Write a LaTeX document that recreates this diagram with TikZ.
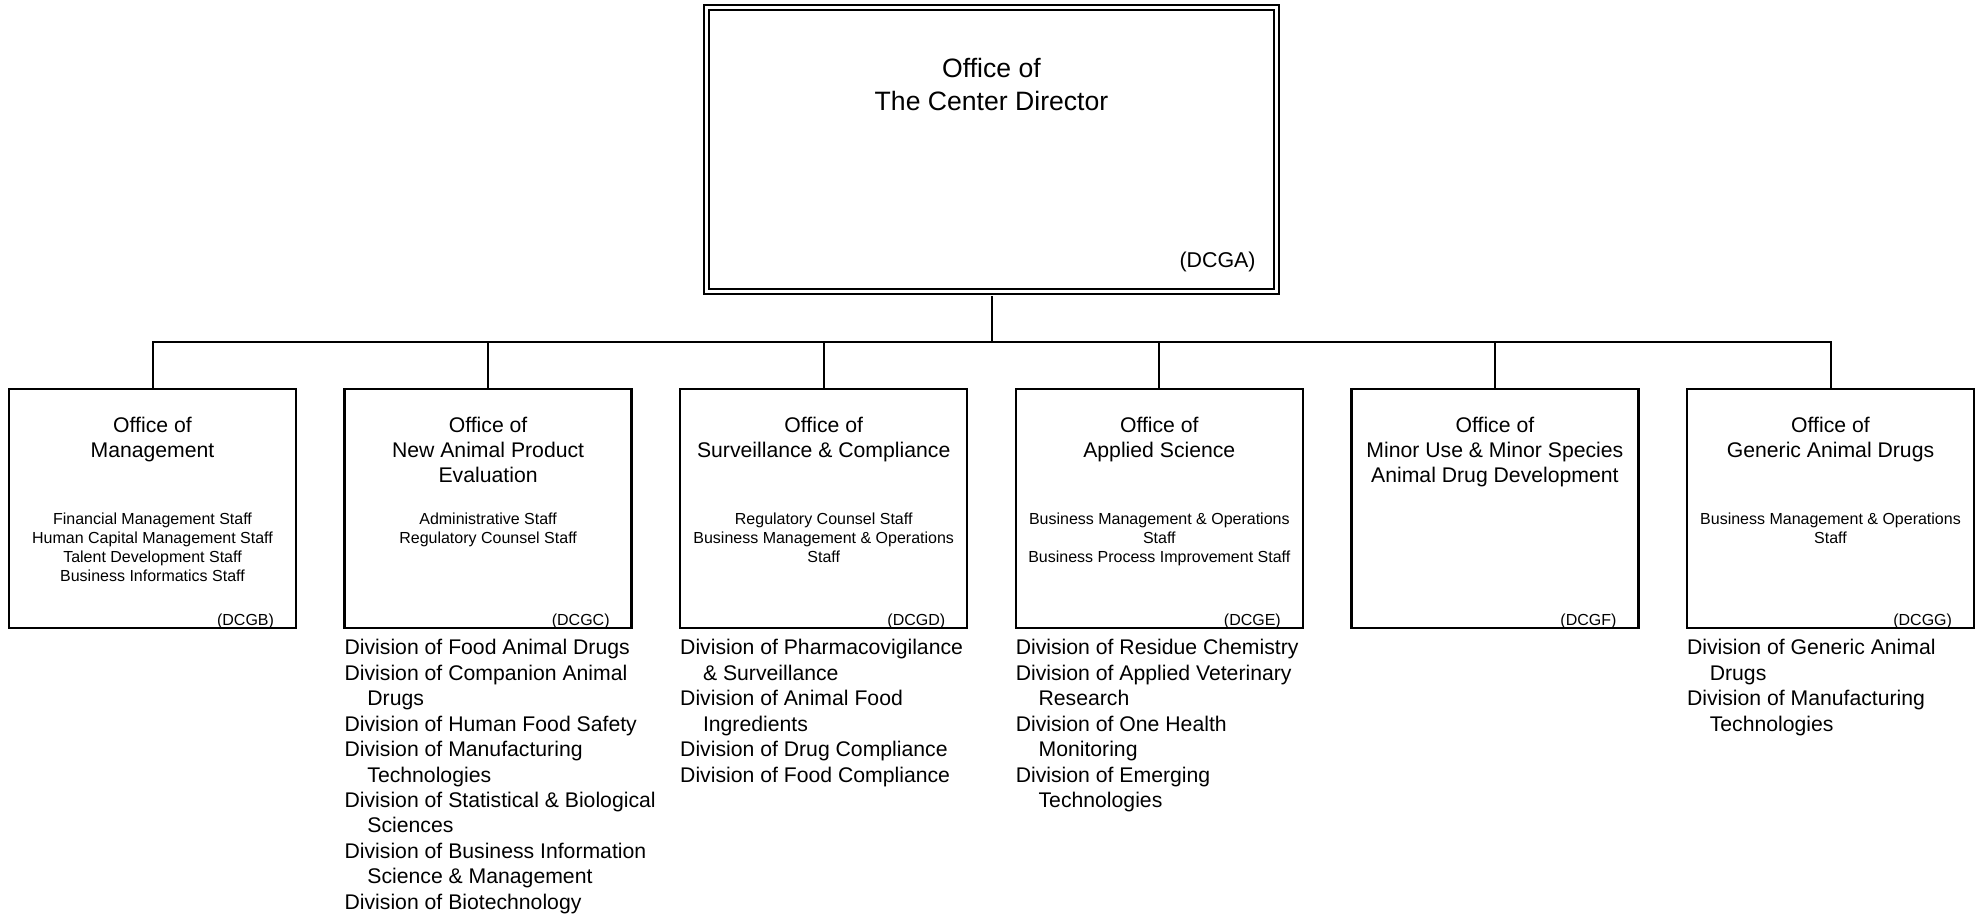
\documentclass[tikz,border=0pt]{standalone}
\usepackage{fontspec}
\setmainfont{Liberation Sans}
\usepackage{tikz}
\usetikzlibrary{calc,positioning}

\newcommand{\wrapin}{\hspace*{11.4pt}}

\begin{document}
\begin{tikzpicture}[
  office/.style={draw,line width=1.2pt,minimum width=143.5pt,minimum height=119.3pt,inner sep=0pt},
  topoffice/.style={draw,double,line width=1pt,double distance=1.5pt,minimum width=285pt,minimum height=142pt,inner sep=0pt},
  ttl/.style={anchor=north,align=center,inner sep=0pt,font=\fontsize{10.6}{12.7}\selectfont},
  stf/.style={anchor=north,align=center,inner sep=0pt,font=\fontsize{8}{9.5}\selectfont},
  code/.style={anchor=base east,inner sep=0pt,font=\fontsize{8}{9.5}\selectfont},
  divlist/.style={anchor=north west,align=left,inner sep=0pt,font=\fontsize{10.6}{12.73}\selectfont},
  link/.style={line width=1pt}
]
\useasboundingbox (0,0) rectangle (993pt,-458pt);

% center director
\node[topoffice] (ocd) at (495.75pt,-74.75pt) {};
\node[anchor=north,align=center,inner sep=0pt,font=\fontsize{13.3}{16.5}\selectfont] (ocd-t)
  at ([yshift=-25.55pt]ocd.north) {Office of\\The Center Director};
\node[anchor=base east,inner sep=0pt,font=\fontsize{10.7}{12}\selectfont] (ocd-c)
  at ([xshift=-10.75pt,yshift=12.5pt]ocd.south east) {(DCGA)};
\draw[link,shorten <=1.75pt] (ocd.south) -- ++(0,-24.75pt) coordinate (hub);

% the six offices
\foreach \n/\cx/\ttl/\stf/\cd in {
  om/76.25/{Office of\\Management}/{Financial Management Staff\\Human Capital Management Staff\\Talent Development Staff\\Business Informatics Staff}/DCGB,
  onape/244.05/{Office of\\New Animal Product\\Evaluation}/{Administrative Staff\\Regulatory Counsel Staff}/DCGC,
  osc/411.85/{Office of\\Surveillance \& Compliance}/{Regulatory Counsel Staff\\Business Management \& Operations\\Staff}/DCGD,
  oas/579.65/{Office of\\Applied Science}/{Business Management \& Operations\\Staff\\Business Process Improvement Staff}/DCGE,
  omums/747.45/{Office of\\Minor Use \& Minor Species\\Animal Drug Development}/{}/DCGF,
  ogad/915.25/{Office of\\Generic Animal Drugs}/{Business Management \& Operations\\Staff}/DCGG}{
  \node[office] (\n) at (\cx pt,-254.25pt) {};
  \node[ttl] (\n-t) at ([yshift=-14.2pt]\n.north) {\ttl};
  \node[stf] (\n-s) at ([yshift=-62pt]\n.north) {\stf};
  \node[code] (\n-c) at ([xshift=-11.4pt,yshift=1.8pt]\n.south east) {(\cd)};
  \draw[link] (hub) -| (\n.north);
}

% divisions
\node[divlist] (onape-d) at ([xshift=0.4pt,yshift=-5pt]onape.south west)
  {Division of Food Animal Drugs\\Division of Companion Animal\\\wrapin Drugs\\Division of Human Food Safety\\Division of Manufacturing\\\wrapin Technologies\\Division of Statistical \& Biological\\\wrapin Sciences\\Division of Business Information\\\wrapin Science \& Management\\Division of Biotechnology};
\node[divlist] (osc-d) at ([xshift=0.4pt,yshift=-5pt]osc.south west)
  {Division of Pharmacovigilance\\\wrapin \& Surveillance\\Division of Animal Food\\\wrapin Ingredients\\Division of Drug Compliance\\Division of Food Compliance};
\node[divlist] (oas-d) at ([xshift=0.4pt,yshift=-5pt]oas.south west)
  {Division of Residue Chemistry\\Division of Applied Veterinary\\\wrapin Research\\Division of One Health\\\wrapin Monitoring\\Division of Emerging\\\wrapin Technologies};
\node[divlist] (ogad-d) at ([xshift=0.4pt,yshift=-5pt]ogad.south west)
  {Division of Generic Animal\\\wrapin Drugs\\Division of Manufacturing\\\wrapin Technologies};
\end{tikzpicture}
\end{document}
